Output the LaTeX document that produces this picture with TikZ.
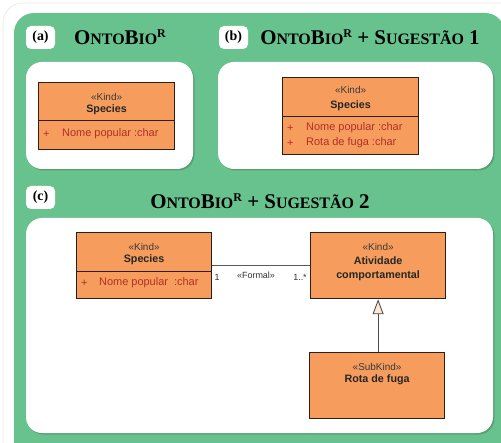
\documentclass[tikz,border=0pt]{standalone}
\usepackage{fontspec}
\setmainfont{Liberation Serif}
\newfontfamily\umlfont{Liberation Sans}
\usetikzlibrary{arrows.meta}

\definecolor{panelgreen}{HTML}{68C28D}
\definecolor{umlorange}{HTML}{F69C5C}
\definecolor{umlline}{HTML}{2E1E16}
\definecolor{attrred}{HTML}{B0302C}
\definecolor{stereogray}{HTML}{3A3A3A}
\definecolor{peach}{HTML}{FCE6D6}

% faux small caps for the panel titles
\newcommand{\capbig}[1]{{\fontsize{21}{21}\selectfont\bfseries #1}}
\newcommand{\capsmall}[1]{{\fontsize{16}{16}\selectfont\bfseries #1}}
\newcommand{\supR}{\raisebox{7bp}{\fontsize{12}{12}\selectfont\bfseries R}}
\newcommand{\ontobio}{\capbig{O}\capsmall{NTO}\capbig{B}\capsmall{IO}\supR}

\tikzset{
  panel/.style={fill=white, rounded corners=16bp},
  tag/.style={fill=white, rounded corners=5bp, minimum width=29bp, minimum height=23bp,
    inner sep=0pt, font=\fontsize{14}{14}\selectfont\bfseries},
  title/.style={inner sep=0pt, anchor=base},
  umlbox/.style={draw=umlline, fill=umlorange, line width=1.2bp, inner sep=0pt, anchor=north west},
  divider/.style={draw=umlline, line width=1bp},
  stereo/.style={inner sep=0pt, text=stereogray, font=\umlfont\fontsize{10}{10}\selectfont},
  cname/.style={inner sep=0pt, text=black!85, font=\umlfont\bfseries\fontsize{10.8}{10.8}\selectfont},
  attr/.style={inner sep=0pt, anchor=west, text=attrred, font=\umlfont\fontsize{11}{11}\selectfont},
  mult/.style={inner sep=0pt, text=black!80, font=\umlfont\fontsize{9}{9}\selectfont},
  assoc/.style={draw=black!65, line width=0.8bp},
  generalize/.style={draw=black!70, line width=0.9bp,
    -{Triangle[open, fill=peach, width=11bp, length=15bp]}},
}

\begin{document}
\begin{tikzpicture}[x=1bp, y=-1bp]
\useasboundingbox (0,0) rectangle (501,443);
\clip (0,0) rectangle (501,443);

% outer frame and green backdrop
\draw[black!10, line width=0.6bp, rounded corners=20bp] (3,3) rectangle (530,470);
\fill[panelgreen, rounded corners=20bp] (14,13) rectangle (505,470);

% white panels with a light shadow
\foreach \xa/\ya/\xb/\yb in {26/62/193/169, 218/62/493/169, 26/218/493/433}{
  \fill[black, opacity=0.18, rounded corners=16bp] (\xa+1.5,\ya+1.5) rectangle (\xb+1.5,\yb+1.5);
  \fill[panel] (\xa,\ya) rectangle (\xb,\yb);
}

% panel tags
\node[tag] (taga) at (40.5,37.5) {(a)};
\node[tag] (tagb) at (233.5,37.5) {(b)};
\node[tag] (tagc) at (40.5,197.5) {(c)};

% panel titles
\node[title] (titlea) at (120,45) {\ontobio};
\node[title] (titleb) at (370,45) {\ontobio\capbig{ + S}\capsmall{UGESTÃO}\capbig{ 1}};
\node[title] (titlec) at (260,209) {\ontobio\capbig{ + S}\capsmall{UGESTÃO}\capbig{ 2}};

% ---------- (a) Species ----------
\node[umlbox, minimum width=136bp, minimum height=67bp] (spa) at (38,82) {};
\draw[divider] (spa.west |- 0,121) -- (spa.east |- 0,121);
\node[stereo] (spak) at (spa.north |- 0,97) {«Kind»};
\node[cname] (span) at (spa.north |- 0,110) {Species};
\node[attr] (spap) at (43,134) {+};
\node[attr] (spaa) at (62,134) {Nome popular :char};

% ---------- (b) Species ----------
\node[umlbox, minimum width=136bp, minimum height=77bp] (spb) at (282,77) {};
\draw[divider] (spb.west |- 0,117) -- (spb.east |- 0,117);
\node[stereo] (spbk) at (spb.north |- 0,90) {«Kind»};
\node[cname] (spbn) at (spb.north |- 0,106) {Species};
\node[attr] (spbp1) at (287,128) {+};
\node[attr] (spba1) at (306,128) {Nome popular :char};
\node[attr] (spbp2) at (287,143) {+};
\node[attr] (spba2) at (306,143) {Rota de fuga :char};

% ---------- (c) ----------
\node[umlbox, minimum width=135bp, minimum height=66bp] (spc) at (76,232) {};
\draw[divider] (spc.west |- 0,271) -- (spc.east |- 0,271);
\node[stereo] (spck) at (spc.north |- 0,247) {«Kind»};
\node[cname] (spcn) at (spc.north |- 0,260) {Species};
\node[attr] (spcp) at (81,283) {+};
\node[attr] (spca) at (99,283) {Nome popular\ \ :char};

\node[umlbox, minimum width=135bp, minimum height=66bp] (act) at (310,232) {};
\node[stereo] (actk) at (act.north |- 0,247) {«Kind»};
\node[cname] (actn1) at (act.north |- 0,261) {Atividade};
\node[cname] (actn2) at (act.north |- 0,276) {comportamental};

\node[umlbox, minimum width=135bp, minimum height=66bp] (rota) at (309,352) {};
\node[stereo] (rotak) at (rota.north |- 0,367) {«SubKind»};
\node[cname] (rotan) at (rota.north |- 0,380) {Rota de fuga};

% association Species -- Atividade
\draw[assoc] (spc) -- (act);
\node[mult] (m1) at (217,277) {1};
\node[mult] (mf) at (256,275) {«Formal»};
\node[mult] (m2) at (300,277) {1..*};

% generalization Rota de fuga -> Atividade
\draw[generalize] (rota.north -| act.south) -- (act.south);
\end{tikzpicture}
\end{document}
